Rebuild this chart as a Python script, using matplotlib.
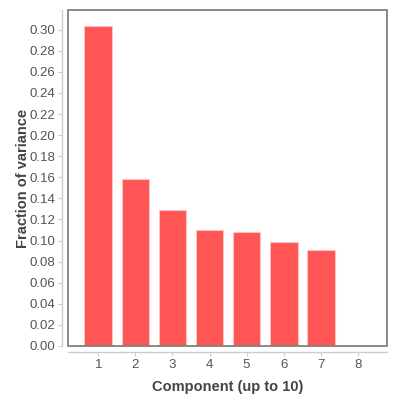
import matplotlib
matplotlib.use("Agg")
import matplotlib.pyplot as plt
from matplotlib.patches import Rectangle

components = [1, 2, 3, 4, 5, 6, 7, 8]
fractions = [0.3039, 0.1584, 0.1287, 0.1104, 0.1085, 0.0987, 0.0914, 0.0]
yticks = [0.00, 0.02, 0.04, 0.06, 0.08, 0.10, 0.12, 0.14, 0.16, 0.18, 0.20,
          0.22, 0.24, 0.26, 0.28, 0.30]

plt.rcParams['font.family'] = ['Liberation Sans', 'DejaVu Sans']

fig = plt.figure(figsize=(4, 4), dpi=100)
ax = fig.add_axes([0.17, 0.135, 0.7975, 0.84])

ax.bar(components, fractions, width=0.75, color='#ff5555',
       edgecolor='#ffc0c0', linewidth=0.8, zorder=2)

ax.set_xlim(0.18, 8.79)
ax.set_ylim(0, 0.3187)
ax.set_xticks(components)
ax.set_yticks(yticks)
ax.set_yticklabels([f"{v:.2f}" for v in yticks])

for s in ['top', 'right']:
    ax.spines[s].set_visible(False)
for s in ['left', 'bottom']:
    ax.spines[s].set_position(('outward', 4))
    ax.spines[s].set_color('#cccccc')
    ax.spines[s].set_linewidth(1.0)

ax.tick_params(axis='both', colors='#cccccc', labelcolor='#555555',
               labelsize=9.5, length=3, width=0.8, pad=2)

frame = Rectangle((0, 0), 1, 1, transform=ax.transAxes, fill=False,
                  edgecolor='#808080', linewidth=1.3, zorder=5, clip_on=False)
ax.add_patch(frame)

ax.set_xlabel('Component (up to 10)', fontsize=10.5, fontweight='bold',
              color='#444444', labelpad=7)
ax.set_ylabel('Fraction of variance', fontsize=10.5, fontweight='bold',
              color='#444444', labelpad=0)

fig.savefig('out.png', dpi=100, facecolor='white')
